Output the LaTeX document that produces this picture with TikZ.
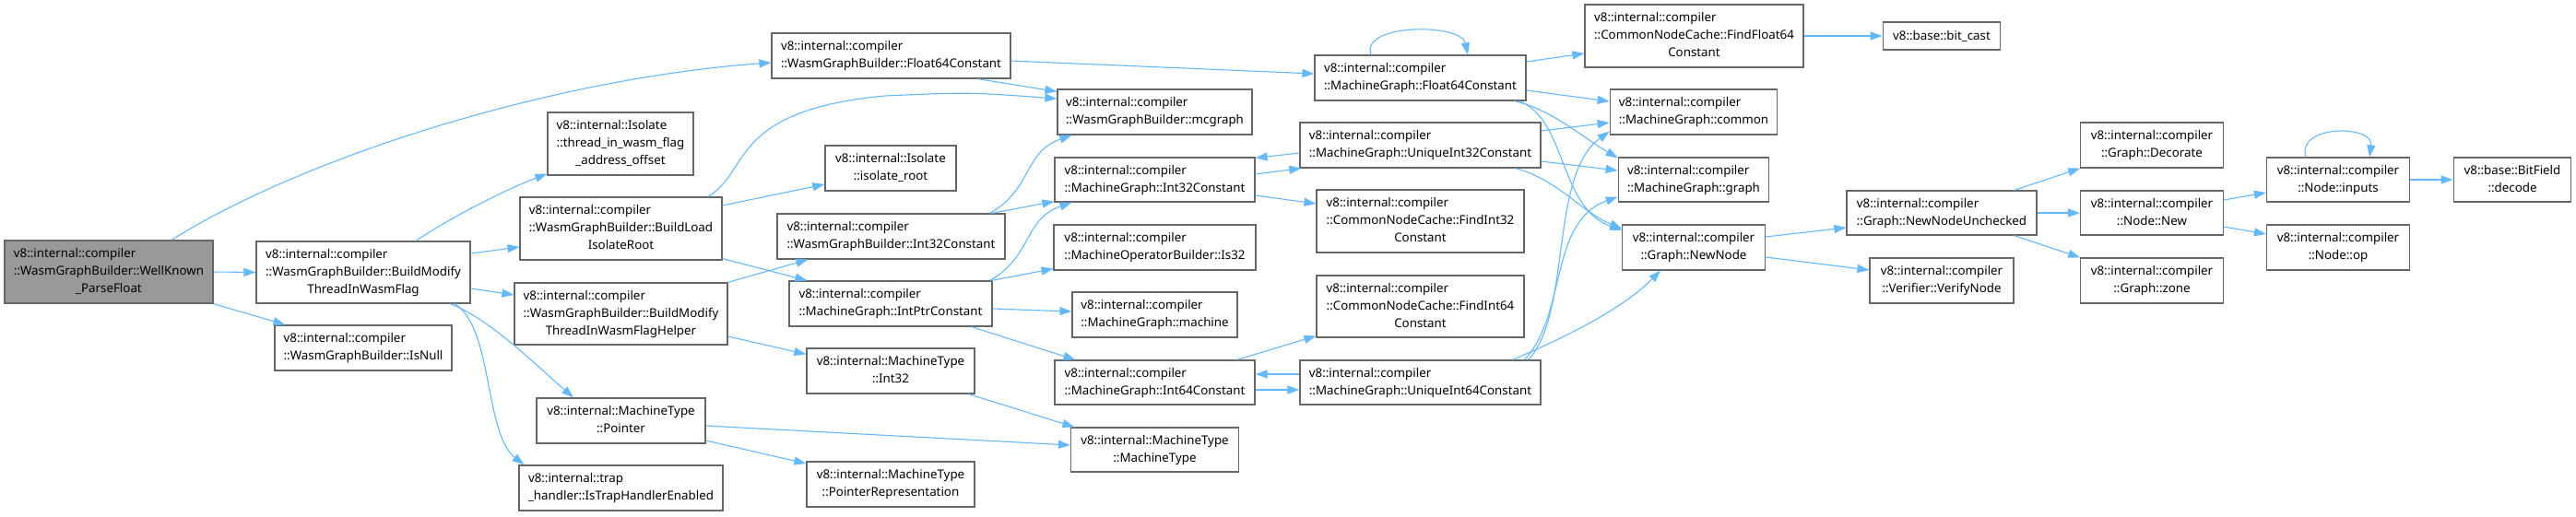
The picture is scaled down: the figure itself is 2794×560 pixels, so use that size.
\documentclass[tikz,border=0pt]{standalone}
\usepackage{fontspec}
\setmainfont{Noto Sans}
\usetikzlibrary{arrows.meta}
\definecolor{edgeblue}{HTML}{63B8FF}
\definecolor{boxgray}{HTML}{666666}
\definecolor{rootfill}{HTML}{999999}
\newcommand\nodefont{\fontsize{13.33}{19}\selectfont}
\newcommand\twol[2]{\begin{tabular}{@{}l@{}}#1\\\multicolumn{1}{@{}c@{}}{#2}\end{tabular}}
\newcommand\threel[3]{\begin{tabular}{@{}l@{}}#1\\#2\\\multicolumn{1}{@{}c@{}}{#3}\end{tabular}}
\begin{document}
\begin{tikzpicture}[x=1pt,y=-1pt,
  fn/.style={draw=boxgray, line width=1.2pt, fill=white, inner sep=0pt, font=\nodefont},
  sz/.style 2 args={minimum width=#1pt, minimum height=#2pt},
  e/.style={draw=edgeblue, line width=1.1pt, -{Triangle[length=13pt,width=9pt]}}]
\useasboundingbox (0,0) rectangle (2794,560);
% column 1
\node[fn, fill=rootfill, sz={226}{68}] (root) at (118,295) {\threel{v8::internal::compiler}{::WasmGraphBuilder::WellKnown}{\_ParseFloat}};
% column 2
\node[fn, sz={232}{67}] (bmf) at (394,295.5) {\threel{v8::internal::compiler}{::WasmGraphBuilder::BuildModify}{ThreadInWasmFlag}};
\node[fn, sz={192}{49}] (isnull) at (394,377.5) {\twol{v8::internal::compiler}{::WasmGraphBuilder::IsNull}};
% column 3
\node[fn, sz={158}{68}] (twf) at (673,156) {\threel{v8::internal::Isolate}{::thread\_in\_wasm\_flag}{\_address\_offset}};
\node[fn, sz={219}{68}] (bli) at (673.5,248) {\threel{v8::internal::compiler}{::WasmGraphBuilder::BuildLoad}{IsolateRoot}};
\node[fn, sz={231}{67}] (bmfh) at (673.5,340.5) {\threel{v8::internal::compiler}{::WasmGraphBuilder::BuildModify}{ThreadInWasmFlagHelper}};
\node[fn, sz={183}{49}] (mtptr) at (673.5,456.5) {\twol{v8::internal::MachineType}{::Pointer}};
\node[fn, sz={221}{49}] (trap) at (673.5,529.5) {\twol{v8::internal::trap}{\_handler::IsTrapHandlerEnabled}};
% column 4
\node[fn, sz={259}{49}] (wf64) at (966.5,60.5) {\twol{v8::internal::compiler}{::WasmGraphBuilder::Float64Constant}};
\node[fn, sz={142}{49}] (iroot) at (966,182.5) {\twol{v8::internal::Isolate}{::isolate\_root}};
\node[fn, sz={247}{49}] (wi32) at (966.5,256.5) {\twol{v8::internal::compiler}{::WasmGraphBuilder::Int32Constant}};
\node[fn, sz={220}{49}] (intptr) at (966,329.5) {\twol{v8::internal::compiler}{::MachineGraph::IntPtrConstant}};
\node[fn, sz={182}{49}] (mtint32) at (966,402.5) {\twol{v8::internal::MachineType}{::Int32}};
\node[fn, sz={182}{49}] (ptrrep) at (966,525.5) {\twol{v8::internal::MachineType}{::PointerRepresentation}};
% column 5
\node[fn, sz={211}{49}] (mcgraph) at (1252.5,121.5) {\twol{v8::internal::compiler}{::WasmGraphBuilder::mcgraph}};
\node[fn, sz={217}{48}] (mi32) at (1252.5,195) {\twol{v8::internal::compiler}{::MachineGraph::Int32Constant}};
\node[fn, sz={219}{49}] (is32) at (1252.5,268.5) {\twol{v8::internal::compiler}{::MachineOperatorBuilder::Is32}};
\node[fn, sz={179}{49}] (machine) at (1252.5,341.5) {\twol{v8::internal::compiler}{::MachineGraph::machine}};
\node[fn, sz={217}{48}] (mi64) at (1252.5,415) {\twol{v8::internal::compiler}{::MachineGraph::Int64Constant}};
\node[fn, sz={182}{48}] (mtmt) at (1252.5,488) {\twol{v8::internal::MachineType}{::MachineType}};
% column 6
\node[fn, sz={229}{49}] (mf64) at (1540.5,84.5) {\twol{v8::internal::compiler}{::MachineGraph::Float64Constant}};
\node[fn, sz={261}{49}] (ui32) at (1540.5,157.5) {\twol{v8::internal::compiler}{::MachineGraph::UniqueInt32Constant}};
\node[fn, sz={225}{68}] (fi32) at (1540.5,240) {\threel{v8::internal::compiler}{::CommonNodeCache::FindInt32}{Constant}};
\node[fn, sz={225}{67}] (fi64) at (1540.5,332.5) {\threel{v8::internal::compiler}{::CommonNodeCache::FindInt64}{Constant}};
\node[fn, sz={261}{48}] (ui64) at (1540.5,415) {\twol{v8::internal::compiler}{::MachineGraph::UniqueInt64Constant}};
% column 7
\node[fn, sz={237}{68}] (ff64) at (1837.5,39) {\threel{v8::internal::compiler}{::CommonNodeCache::FindFloat64}{Constant}};
\node[fn, sz={181.5}{49}] (common) at (1837,121.5) {\twol{v8::internal::compiler}{::MachineGraph::common}};
\node[fn, sz={163.5}{48}] (graph) at (1837,195) {\twol{v8::internal::compiler}{::MachineGraph::graph}};
\node[fn, sz={154.5}{49}] (newnode) at (1837,268.5) {\twol{v8::internal::compiler}{::Graph::NewNode}};
% column 8
\node[fn, sz={127.5}{30}] (bitcast) at (2106,39) {v8::base::bit\_cast};
\node[fn, sz={206}{48}] (nnu) at (2106,231) {\twol{v8::internal::compiler}{::Graph::NewNodeUnchecked}};
\node[fn, sz={156}{49}] (verify) at (2106,304.5) {\twol{v8::internal::compiler}{::Verifier::VerifyNode}};
% column 9
\node[fn, sz={154.5}{49}] (decorate) at (2334,157.5) {\twol{v8::internal::compiler}{::Graph::Decorate}};
\node[fn, sz={154.5}{48}] (nodenew) at (2334,231) {\twol{v8::internal::compiler}{::Node::New}};
\node[fn, sz={154.5}{49}] (zone) at (2334,304.5) {\twol{v8::internal::compiler}{::Graph::zone}};
% column 10
\node[fn, sz={155}{48}] (inputs) at (2536,195) {\twol{v8::internal::compiler}{::Node::inputs}};
\node[fn, sz={155}{49}] (op) at (2536,268.5) {\twol{v8::internal::compiler}{::Node::op}};
% column 11
\node[fn, sz={127.5}{48}] (decode) at (2725,195) {\twol{v8::base::BitField}{::decode}};

% edges
\draw[e] ([xshift=68pt]root.north) .. controls (330,170) and (600,85) .. ([yshift=-7.5pt]wf64.west);
\draw[e] (root.east) -- (bmf.west);
\draw[e] (root.south east) -- ([xshift=12pt]isnull.north west);
\draw[e] ([xshift=57pt]bmf.north) .. controls (490,235) and (550,205) .. ([yshift=2pt]twf.south west);
\draw[e] ([yshift=20.5pt]bmf.east) -- ([yshift=-20pt]bli.west);
\draw[e] ([yshift=-17.5pt]bmf.east) -- ([yshift=20.5pt]bmfh.west);
\draw[e] ([xshift=94pt]bmf.south) .. controls (530,345) and (580,395) .. ([xshift=-51.5pt]mtptr.north);
\draw[e] ([xshift=99pt]bmf.south) .. controls (535,355) and (525,470) .. ([xshift=6pt]trap.north west);
\draw[e] ([yshift=-5.5pt]wf64.east) -- ([yshift=4.5pt]mf64.west);
\draw[e] ([xshift=-36pt]wf64.south east) -- ([yshift=-3pt]mcgraph.north west);
\draw[e] ([xshift=94.5pt]bli.north) .. controls (815,185) and (790,120) .. (960,104) .. controls (1050,100) .. ([yshift=14.5pt]mcgraph.west);
\draw[e] ([yshift=25pt]bli.east) -- ([yshift=-17.5pt]iroot.west);
\draw[e] ([yshift=2pt]bli.south east) -- ([xshift=20pt]intptr.north west);
\draw[e] (bmfh.north east) -- ([xshift=34pt]wi32.south west);
\draw[e] ([yshift=-24.5pt]bmfh.east) -- ([yshift=-7pt]mtint32.north west);
\draw[e] ([xshift=-17pt]wi32.north east) .. controls (1120,205) and (1110,165) .. ([xshift=16pt]mcgraph.south west);
\draw[e] ([xshift=-15pt]wi32.north east) -- ([yshift=1pt]mi32.south west);
\draw[e] ([xshift=-3pt]intptr.north east) .. controls (1120,278) and (1110,238) .. ([xshift=19pt]mi32.south west);
\draw[e] ([xshift=-1pt]intptr.north east) -- ([yshift=2pt]is32.south west);
\draw[e] ([yshift=-5.5pt]intptr.east) -- ([yshift=3.5pt]machine.west);
\draw[e] ([xshift=-23pt]intptr.south east) -- ([xshift=23pt]mi64.north west);
\draw[e] ([xshift=-7pt]mtint32.south east) -- ([xshift=4.5pt]mtmt.north west);
\draw[e] ([yshift=-5.5pt]mtptr.east) -- ([yshift=5pt]mtmt.west);
\draw[e] ([yshift=-21.5pt]mtptr.east) -- ([yshift=22.5pt]ptrrep.west);
\draw[e] ([yshift=6pt]mi32.east) -- ([xshift=2pt]ui32.south west);
\draw[e] ([yshift=-8.5pt]ui32.west) -- ([yshift=-1pt]mi32.north east);
\draw[e] ([yshift=-17pt]mi32.east) -- ([yshift=19pt]fi32.west);
\draw[e] ([xshift=-53.5pt]mf64.north) .. controls (1475,25) and (1585,25) .. ([xshift=51.5pt]mf64.north);
\draw[e] ([yshift=17.5pt]mf64.east) -- ([yshift=-19pt]ff64.west);
\draw[e] ([yshift=-13.5pt]mf64.east) -- ([yshift=11.5pt]common.west);
\draw[e] ([xshift=-13pt]mf64.south east) .. controls (1685,120) and (1715,148) .. ([yshift=-1pt]graph.north west);
\draw[e] ([xshift=-8pt]mf64.south east) .. controls (1700,130) and (1690,225) .. ([yshift=18.5pt]newnode.west);
\draw[e] ([yshift=15.5pt]ui32.east) -- ([yshift=-11.5pt]common.west);
\draw[e] ([yshift=-17.5pt]ui32.east) -- ([yshift=10pt]graph.west);
\draw[e] ([xshift=-28pt]ui32.south east) .. controls (1690,195) and (1715,230) .. ([yshift=20.5pt]newnode.west);
\draw[e] ([xshift=-20pt]mi64.north east) -- ([yshift=2pt]fi64.south west);
\draw[e] ([yshift=-8pt]mi64.east) -- ([yshift=-8pt]ui64.west);
\draw[e] ([yshift=9pt]ui64.west) -- ([yshift=9pt]mi64.east);
\draw[e] ([xshift=-14pt]ui64.north east) .. controls (1705,340) and (1680,190) .. ([yshift=4pt]common.south west);
\draw[e] ([xshift=-18pt]ui64.north east) .. controls (1700,340) and (1680,240) .. ([yshift=6pt]graph.south west);
\draw[e] ([xshift=-31pt]ui64.north east) .. controls (1700,365) and (1760,335) .. ([xshift=-36pt]newnode.south);
\draw[e] (ff64.east) -- (bitcast.west);
\draw[e] ([yshift=11.5pt]newnode.east) -- ([yshift=-16pt]nnu.west);
\draw[e] ([yshift=-10.5pt]newnode.east) -- ([yshift=11.5pt]verify.west);
\draw[e] ([xshift=-25pt]nnu.north east) -- (decorate.south west);
\draw[e] (nnu.east) -- (nodenew.west);
\draw[e] ([xshift=-25pt]nnu.south east) -- (zone.north west);
\draw[e] ([yshift=14pt]nodenew.east) -- ([yshift=-14pt]inputs.west);
\draw[e] ([yshift=-15pt]nodenew.east) -- ([yshift=14.5pt]op.west);
\draw[e] ([xshift=-35pt]inputs.north) .. controls (2490,135) and (2575,135) .. ([xshift=34pt]inputs.north);
\draw[e] (inputs.east) -- (decode.west);
\end{tikzpicture}
\end{document}
